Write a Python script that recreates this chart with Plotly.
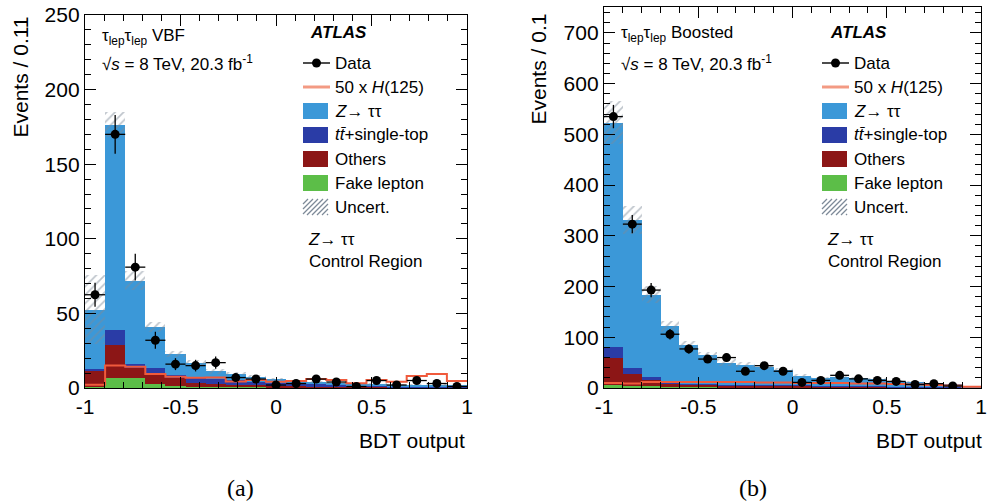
import numpy as np
import plotly.graph_objects as go

# ---------------- data: (a) VBF, 19 bins of width 2/19 ----------------
vbf_fake   = [0.8, 7.0, 6.5, 2.5, 1.5, 1.0, 0.8, 0.5, 0.4, 0.3, 0.3, 0.3, 0.2, 0.2, 0.2, 0.2, 0.2, 0.2, 0.1]
vbf_others = [10.4, 21.6, 7.0, 7.3, 5.0, 2.5, 2.2, 1.5, 1.4, 1.2, 0.9, 0.9, 0.8, 0.6, 0.6, 0.4, 0.4, 0.3, 0.3]
vbf_ttbar  = [1.6, 10.4, 2.7, 3.8, 2.2, 3.0, 3.3, 3.2, 2.2, 1.7, 1.4, 1.2, 1.0, 0.8, 0.7, 0.6, 0.5, 0.5, 0.4]
vbf_ztt    = [39.8, 137.5, 55.8, 27.1, 14.1, 10.0, 4.9, 4.4, 3.6, 2.8, 2.0, 1.8, 1.6, 1.4, 1.2, 1.1, 1.1, 1.0, 0.7]
vbf_unc    = [23.0, 8.5, 6.3, 3.3, 2.2, 2.0, 1.5, 1.2, 1.0, 0.8, 0.7, 0.6, 0.6, 0.5, 0.5, 0.4, 0.4, 0.4, 0.3]
vbf_higgs  = [2.2, 15.0, 14.3, 9.4, 7.6, 6.9, 7.0, 4.3, 5.4, 4.2, 4.7, 6.0, 5.4, 3.1, 5.4, 4.2, 8.0, 9.4, 4.7]
vbf_data   = [62.5, 170, 81, 32, 16, 15, 17, 7, 6, 2, 3, 6, 4, 1, 5, 2, 5, 3, 1]
vbf_derr   = [8.0, 13.0, 9.0, 5.7, 4.0, 3.9, 4.1, 2.6, 2.4, 1.4, 1.7, 2.4, 2.0, 1.0, 2.2, 1.4, 2.2, 1.7, 1.0]

# ---------------- data: (b) Boosted, 20 bins of width 0.1 ----------------
bst_fake   = [6, 4, 3, 1.5, 1, 1, 0.8, 0.8, 0.7, 0.6, 0.5, 0.5, 0.4, 0.4, 0.3, 0.3, 0.2, 0.2, 0.2, 0.1]
bst_others = [53, 24, 13, 7.5, 5.5, 5, 4.2, 4.2, 4.3, 3.9, 3.5, 3.0, 2.6, 2.1, 1.9, 1.5, 1.3, 1.0, 0.6, 0.3]
bst_ttbar  = [21, 12, 6, 2, 1.5, 1, 1, 1, 1, 1, 1, 1, 1, 1, 0.8, 0.7, 0.5, 0.3, 0.2, 0.1]
bst_ztt    = [443, 291, 162, 111, 76, 58, 44, 40, 35, 29.5, 19, 14.5, 17, 15.5, 14, 12, 10, 7.5, 6, 2.1]
bst_unc    = [43, 27, 17, 11, 8, 5.5, 7, 5, 4, 3.5, 3, 2.5, 2.5, 2, 2, 1.8, 1.5, 1.2, 1, 0.5]
bst_higgs  = [10, 9, 12, 12, 12, 12, 12, 12, 11, 11, 10, 10, 10, 9, 9, 8, 7, 6, 5, 2.5]
bst_data   = [535, 323, 193, 106, 77, 57, 60, 33, 44, 33, 11, 15, 25, 18, 15, 13, 7, 8.5, 4, None]
bst_derr   = [23, 18, 14, 10.3, 8.8, 7.5, 7.7, 5.7, 6.6, 5.7, 3.3, 3.9, 5, 4.2, 3.9, 3.6, 2.6, 2.9, 2, 0]

x_tickvals = [-1, -0.5, 0, 0.5, 1]
x_ticktext = ["-1", "-0.5", "0", "0.5", "1"]

C_Z = "#3b98d8"
C_TT = "#2a3ca6"
C_OTH = "#8c1616"
C_FAKE = "#5cbe48"
C_H = "#f05a3c"
C_HATCH = "#7d8a98"

W, H = 990, 504
def px(x): return x / W
def py(y): return 1 - y / H

FONT = "Liberation Sans"

fig = go.Figure()

panels = [
    dict(ax="", nb=19, fake=vbf_fake, oth=vbf_others, tt=vbf_ttbar, z=vbf_ztt, unc=vbf_unc,
         hig=vbf_higgs, data=vbf_data, derr=vbf_derr),
    dict(ax="2", nb=20, fake=bst_fake, oth=bst_others, tt=bst_ttbar, z=bst_ztt, unc=bst_unc,
         hig=bst_higgs, data=bst_data, derr=bst_derr),
]

for p in panels:
    edges = np.linspace(-1, 1, p["nb"] + 1)
    centers = 0.5 * (edges[:-1] + edges[1:])
    bw = edges[1] - edges[0]
    xa, ya = "x" + p["ax"], "y" + p["ax"]
    for vals, col in [(p["fake"], C_FAKE), (p["oth"], C_OTH), (p["tt"], C_TT), (p["z"], C_Z)]:
        fig.add_trace(go.Bar(x=centers, y=vals, width=bw, marker=dict(color=col, line=dict(width=0)),
                             xaxis=xa, yaxis=ya, showlegend=False))
    total = np.array(p["fake"]) + np.array(p["oth"]) + np.array(p["tt"]) + np.array(p["z"])
    unc = np.array(p["unc"])
    fig.add_trace(go.Bar(x=centers, y=2 * unc, base=total - unc, width=bw,
                         marker=dict(color="rgba(0,0,0,0)", line=dict(width=0),
                                     pattern=dict(shape="/", fgcolor=C_HATCH, size=6, solidity=0.28,
                                                  fillmode="overlay")),
                         xaxis=xa, yaxis=ya, showlegend=False))
    hig = list(p["hig"]) + [p["hig"][-1]]
    fig.add_trace(go.Scatter(x=edges, y=hig, mode="lines", line=dict(color=C_H, width=2, shape="hv"),
                             xaxis=xa, yaxis=ya, showlegend=False))
    fig.add_trace(go.Scatter(x=centers, y=p["data"], mode="markers",
                             marker=dict(color="black", size=9),
                             error_y=dict(type="data", array=p["derr"], color="black", thickness=1.3, width=0),
                             error_x=dict(type="data", array=[bw / 2] * p["nb"], color="black", thickness=1.3, width=0),
                             xaxis=xa, yaxis=ya, showlegend=False))

def xaxis_cfg(dom, anchor):
    return dict(domain=dom, range=[-1, 1], anchor=anchor, tickmode="array", tickvals=x_tickvals,
                ticktext=x_ticktext, ticks="inside", ticklen=11, tickwidth=1.2, tickcolor="black",
                showline=True, linecolor="black", linewidth=1.3, mirror="ticks", showgrid=False,
                zeroline=False, automargin=False, tickfont=dict(family=FONT, size=21, color="black"),
                minor=dict(ticks="inside", tickmode="linear", tick0=-1, dtick=0.1, ticklen=5.5,
                           tickwidth=1, tickcolor="black", showgrid=False))

def yaxis_cfg(dom, anchor, rng, dt, mdt):
    return dict(domain=dom, range=rng, anchor=anchor, tickmode="linear", tick0=0, dtick=dt,
                ticks="inside", ticklen=11, tickwidth=1.2, tickcolor="black",
                showline=True, linecolor="black", linewidth=1.3, mirror="ticks", showgrid=False,
                zeroline=False, automargin=False, tickfont=dict(family=FONT, size=21, color="black"),
                minor=dict(ticks="inside", dtick=mdt, ticklen=5.5, tickwidth=1, tickcolor="black",
                           showgrid=False))

ybot = py(388)
fig.update_layout(
    width=W, height=H, autosize=False, margin=dict(l=0, r=0, t=0, b=0, pad=0),
    paper_bgcolor="white", plot_bgcolor="white", barmode="stack",
    xaxis=xaxis_cfg([px(85), px(467)], "y"),
    yaxis=yaxis_cfg([ybot, py(15)], "x", [0, 250], 50, 10),
    xaxis2=xaxis_cfg([px(604), px(981)], "y2"),
    yaxis2=yaxis_cfg([ybot, py(7)], "x2", [0, 751], 100, 20),
    showlegend=False,
)

ann = []
shapes = []
def text(x, y, s, size=17, xanchor="left", yanchor="middle", family=FONT, angle=0):
    ann.append(dict(x=px(x), y=py(y), xref="paper", yref="paper", text=s, showarrow=False,
                    xanchor=xanchor, yanchor=yanchor, textangle=angle, align="left",
                    font=dict(family=family, size=size, color="black")))

def rect(x0, y0, x1, y1, col):
    shapes.append(dict(type="rect", xref="paper", yref="paper", x0=px(x0), x1=px(x1), y0=py(y1), y1=py(y0),
                       fillcolor=col, line=dict(width=0)))

def line(x0, y0, x1, y1, col, w):
    shapes.append(dict(type="line", xref="paper", yref="paper", x0=px(x0), x1=px(x1), y0=py(y0), y1=py(y1),
                       line=dict(color=col, width=w)))

def hatch_box(x0, y0, x1, y1, step):
    h = y1 - y0
    c = x0 - h
    while c < x1:
        ts = max(0, x0 - c)
        te = min(h, x1 - c)
        if te > ts:
            line(c + ts, y1 - ts, c + te, y1 - te, C_HATCH, 1.3)
        c += step

legend_items = ["Data", "50 x <i>H</i>(125)", "<i>Z</i>\u2192 \u03c4\u03c4", "<i>t</i><i>t\u0304</i>+single-top",
                "Others", "Fake lepton", "Uncert."]

cfg = [
    dict(tx=100, ty=37, title="\u03c4<sub>lep</sub>\u03c4<sub>lep</sub> VBF", atlas=308, lx=303, ytitle="Events / 0.11",
         ytx=20, ytt=15, xt=467, lab="(a)", labx=240),
    dict(tx=619, ty=34, title="\u03c4<sub>lep</sub>\u03c4<sub>lep</sub> Boosted", atlas=828, lx=822, ytitle="Events / 0.1",
         ytx=538, ytt=12, xt=984, lab="(b)", labx=753),
]
for c in cfg:
    text(c["tx"], c["ty"], c["title"], size=17)
    text(c["tx"], 63, "\u221a<i>s</i> = 8 TeV, 20.3 fb<sup>-1</sup>", size=17)
    text(c["atlas"], 32, "<b><i>ATLAS</i></b>", size=17)
    lx = c["lx"]
    rows = [63, 87, 111, 135, 159, 183, 207]
    for s, yy in zip(legend_items, rows):
        text(lx + 30, yy, s, size=17)
    # Data symbol
    line(lx, 63, lx + 27, 63, "black", 1.4)
    shapes.append(dict(type="circle", xref="paper", yref="paper", x0=px(lx + 9), x1=px(lx + 18),
                       y0=py(67.5), y1=py(58.5), fillcolor="black", line=dict(width=0)))
    line(lx, 87, lx + 27, 87, "#f39a83", 3)
    rect(lx, 103, lx + 25, 119, C_Z)
    rect(lx, 127, lx + 25, 143, C_TT)
    rect(lx, 151, lx + 25, 167, C_OTH)
    rect(lx, 175, lx + 25, 191, C_FAKE)
    hatch_box(lx, 199, lx + 25, 215, 5)
    text(lx + 3, 250, "<i>Z</i>\u2192 \u03c4\u03c4<br>Control Region", size=17)
    text(c["ytx"], c["ytt"], c["ytitle"], size=21, xanchor="center", yanchor="top", angle=-90)
    text(c["xt"], 440, "BDT output", size=21, xanchor="right")
    text(c["labx"], 488, c["lab"], size=24, xanchor="center", family="Liberation Serif")

fig.update_layout(annotations=ann, shapes=shapes)
fig.write_html("out.html", post_script="document.body.style.margin='0px';")
